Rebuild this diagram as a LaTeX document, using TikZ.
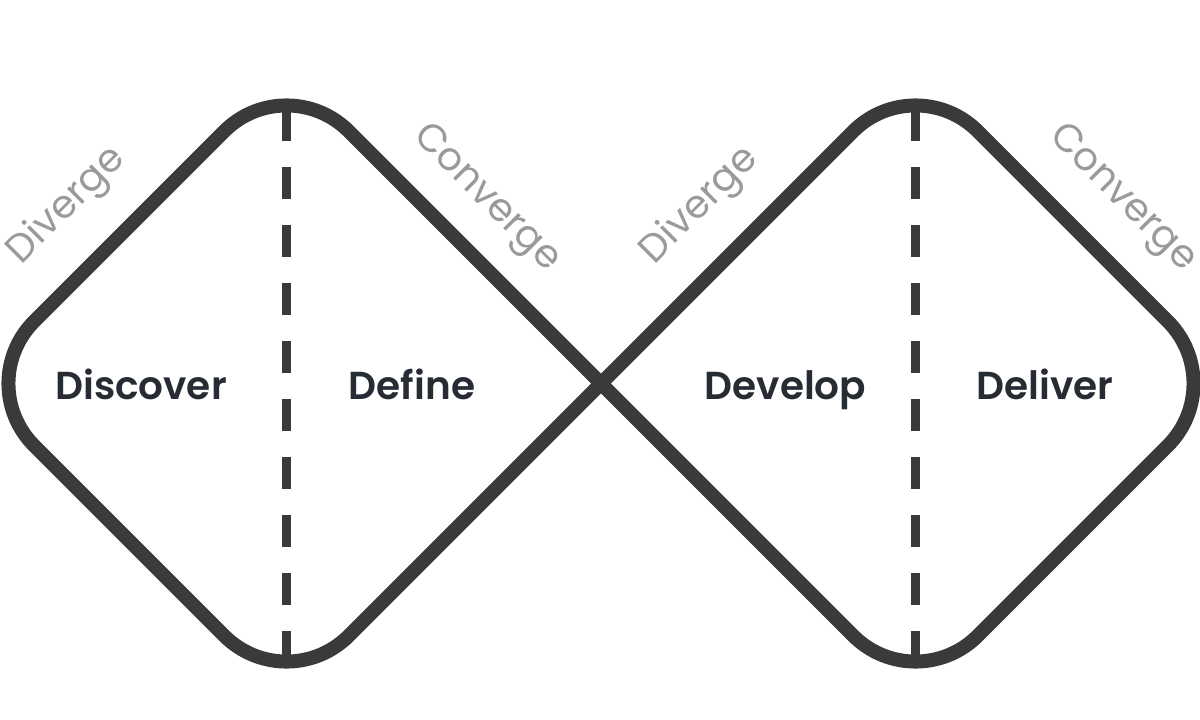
\documentclass[tikz,border=0pt]{standalone}
\usepackage{fontspec}
\newfontfamily\phasefont{Poppins SemiBold}
\newfontfamily\modefont{Poppins}
\definecolor{outline}{HTML}{3A3A3A}
\definecolor{phasetext}{HTML}{272B33}
\definecolor{modetext}{HTML}{9A9A9A}
\begin{document}
\begin{tikzpicture}[x=1bp,y=-1bp,
  loop/.style={draw=outline,line width=14bp,line join=round,rounded corners=88bp},
  split/.style={draw=outline,line width=9bp,dash pattern=on 32.5bp off 25.5bp},
  phase/.style={text=phasetext,font=\phasefont\fontsize{39bp}{46bp}\selectfont,inner sep=0pt,anchor=base},
  mode/.style={text=modetext,font=\modefont\fontsize{39bp}{47bp}\selectfont,inner sep=0pt}]
\useasboundingbox (0,0) rectangle (1200,720);
% corner points of the two squares
\coordinate (lt) at (286.5,69);
\coordinate (ll) at (-28,383.5);
\coordinate (lb) at (286.5,698);
\coordinate (rt) at (915.5,69);
\coordinate (rr) at (1230,383.5);
\coordinate (rb) at (915.5,698);
% dividers inside each diamond
\coordinate (ls) at (286.5,108.7);
\coordinate (le) at (286.5,661.5);
\coordinate (rs) at (915.5,108.7);
\coordinate (re) at (915.5,661.5);
\draw[split] (ls) -- (le);
\draw[split] (rs) -- (re);
% figure-eight outline crossing in the middle
\begin{scope}
\clip (0,0) rectangle (1200,720);
\draw[loop] (lt) -- (ll) -- (lb) -- (rt) -- (rr) -- (rb) -- cycle;
\end{scope}
% phase names
\node[phase] (discover) at (141,399) {Discover};
\node[phase] (define) at (412,399) {Define};
\node[phase] (develop) at (785.5,399) {Develop};
\node[phase] (deliver) at (1045,399) {Deliver};
% diverge / converge labels along the edges
\node[mode,rotate=45] (div1) at (67,206) {Diverge};
\node[mode,rotate=-45] (con1) at (486,199) {Converge};
\node[mode,rotate=45] (div2) at (700,206) {Diverge};
\node[mode,rotate=-45] (con2) at (1122,199) {Converge};
\end{tikzpicture}
\end{document}
